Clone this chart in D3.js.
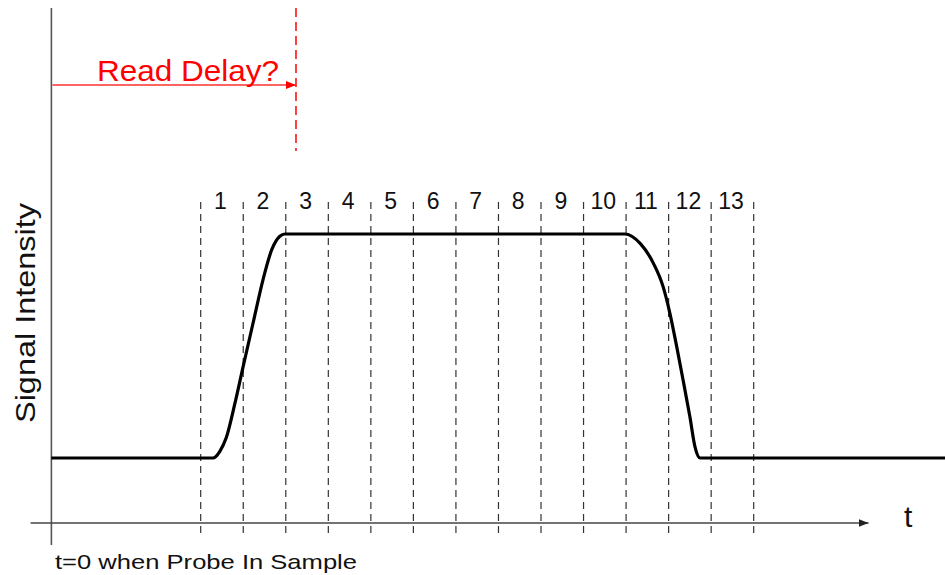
<!DOCTYPE html>
<html>
<head>
<meta charset="utf-8">
<script src="https://cdn.jsdelivr.net/npm/d3@7"></script>
<style>
  html, body { margin: 0; padding: 0; background: #ffffff; }
  svg { display: block; font-family: "Liberation Sans", Arial, sans-serif; }
</style>
</head>
<body>
<div id="chart"></div>
<script>
// Read-window numbers shown above the dashed boundaries
const windowLabels = ["1","2","3","4","5","6","7","8","9","10","11","12","13"];
// Window boundaries (time units)
const boundaries = [0,1,2,3,4,5,6,7,8,9,10,11,12,13];
// Signal profile: time (window units) and relative intensity
const signalTime = [-3.51, 0.29, 0.45, 0.6, 0.8, 1.0, 1.24, 1.47, 1.67, 1.86, 1.98,
                    5.0, 9.97, 10.33, 10.64, 10.87, 11.03, 11.19, 11.34, 11.50, 11.62, 11.74, 17.5];
const signalLevel = [0, 0, 0.03, 0.09, 0.24, 0.41, 0.61, 0.80, 0.93, 0.99, 1.0,
                     1.0, 1.0, 0.958, 0.87, 0.765, 0.646, 0.497, 0.348, 0.184, 0.05, 0, 0];
// Start of the time axis, end of the time-axis arrow, and the read-delay marker
const axisStart = -4.0;
const axisEnd = 15.7;
const originTime = -3.51;
const readDelayTime = 2.24;
// Intensity level of the time axis
const axisLevel = -0.29;

const width = 945, height = 575;
const svg = d3.select("#chart").append("svg")
  .attr("width", width).attr("height", height);

const x = d3.scaleLinear().domain([0, 13]).range([200.7, 753.7]);
const y = d3.scaleLinear().domain([0, 1]).range([458, 234]);

const defs = svg.append("defs");
function arrow(id, color) {
  defs.append("marker")
    .attr("id", id)
    .attr("viewBox", "0 0 10 8")
    .attr("refX", 10).attr("refY", 4)
    .attr("markerWidth", 10).attr("markerHeight", 8)
    .attr("markerUnits", "userSpaceOnUse")
    .attr("orient", "auto")
    .append("path").attr("d", "M0,0 L10,4 L0,8 Z").attr("fill", color);
}
arrow("arrowBlack", "#222");
arrow("arrowRed", "#ff0000");

// Dashed window boundaries
svg.append("g").selectAll("line").data(boundaries).join("line")
  .attr("x1", d => x(d)).attr("x2", d => x(d))
  .attr("y1", 202).attr("y2", 533)
  .attr("stroke", "#333").attr("stroke-width", 1.2)
  .attr("stroke-dasharray", "7,5");

// Window numbers
svg.append("g").selectAll("text").data(windowLabels).join("text")
  .attr("x", (d, i) => x(i + 0.5) - 1.5)
  .attr("y", 209)
  .attr("text-anchor", "middle")
  .attr("font-size", 23)
  .attr("fill", "#111")
  .text(d => d);

// Axes
svg.append("line")
  .attr("x1", x(originTime)).attr("x2", x(originTime))
  .attr("y1", 8).attr("y2", 545)
  .attr("stroke", "#555").attr("stroke-width", 1.6);
svg.append("line")
  .attr("x1", x(axisStart)).attr("x2", x(axisEnd))
  .attr("y1", y(axisLevel)).attr("y2", y(axisLevel))
  .attr("stroke", "#444").attr("stroke-width", 1.4)
  .attr("marker-end", "url(#arrowBlack)");

// Signal curve
const pts = signalTime.map((t, i) => [t, signalLevel[i]]);
const line = d3.line()
  .x(d => x(d[0])).y(d => y(d[1]))
  .curve(d3.curveMonotoneX);
svg.append("path")
  .attr("d", line(pts))
  .attr("fill", "none")
  .attr("stroke", "#000")
  .attr("stroke-width", 3.2)
  .attr("stroke-linejoin", "round");

// Read delay marker
svg.append("line")
  .attr("x1", x(readDelayTime)).attr("x2", x(readDelayTime))
  .attr("y1", 8).attr("y2", 151)
  .attr("stroke", "#ff0000").attr("stroke-width", 1.5)
  .attr("stroke-dasharray", "9,5");
svg.append("line")
  .attr("x1", x(originTime) + 1).attr("x2", x(readDelayTime))
  .attr("y1", 85).attr("y2", 85)
  .attr("stroke", "#ff3030").attr("stroke-width", 1.6)
  .attr("marker-end", "url(#arrowRed)");
svg.append("text")
  .attr("x", 97).attr("y", 81)
  .attr("font-size", 30)
  .attr("fill", "#ff0000")
  .attr("textLength", 182).attr("lengthAdjust", "spacingAndGlyphs")
  .text("Read Delay?");

// Axis titles
svg.append("text")
  .attr("transform", "translate(35,313) rotate(-90)")
  .attr("text-anchor", "middle")
  .attr("font-size", 28)
  .attr("fill", "#111")
  .attr("textLength", 220).attr("lengthAdjust", "spacingAndGlyphs")
  .text("Signal Intensity");
svg.append("text")
  .attr("x", 904).attr("y", 527)
  .attr("font-size", 30)
  .attr("fill", "#111")
  .text("t");
svg.append("text")
  .attr("x", 55).attr("y", 569)
  .attr("font-size", 21)
  .attr("fill", "#111")
  .attr("textLength", 302).attr("lengthAdjust", "spacingAndGlyphs")
  .text("t=0 when Probe In Sample");
</script>
</body>
</html>
